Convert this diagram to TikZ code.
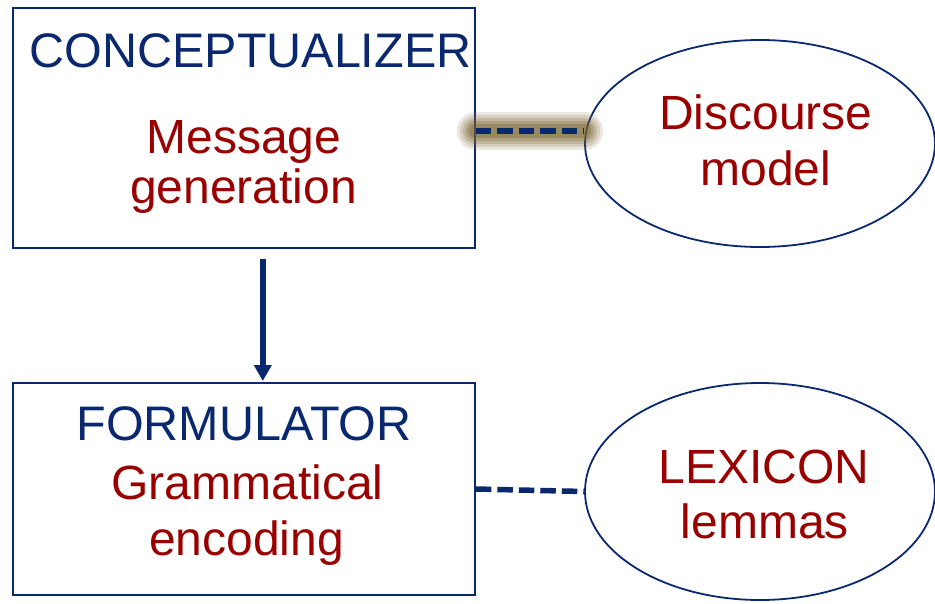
\documentclass[tikz,border=0pt]{standalone}
\usepackage{fontspec}
\setmainfont{Liberation Sans}
\usepackage{tikz}
\usetikzlibrary{shapes.geometric, arrows.meta, positioning, calc}

\definecolor{navy}{RGB}{10,40,110}
\definecolor{darkred}{RGB}{153,0,0}
\definecolor{glow}{RGB}{120,95,45}

\tikzset{
  stage/.style={draw=navy, line width=2pt, rectangle, minimum width=462pt, inner sep=0pt},
  store/.style={draw=navy, line width=1.8pt, ellipse, minimum width=350pt, inner sep=0pt},
  title/.style={text=navy, anchor=base, inner sep=0pt, font=\fontsize{48.5}{56}\selectfont},
  sub/.style={text=darkred, anchor=base, inner sep=0pt, font=\fontsize{48}{56}\selectfont},
  link/.style={draw=navy, line width=5.5pt, dash pattern=on 15.5pt off 6pt}
}

\begin{document}
\begin{tikzpicture}[x=1pt, y=-1pt]
\useasboundingbox (0,0) rectangle (935,603);
% Boxes
\node[stage, minimum height=240pt] (concept) at (243.8,128) {};
\node[stage, minimum height=212pt] (formul) at (243.8,489) {};
% Ellipses
\node[store, minimum height=207pt] (discourse) at (760,143.5) {};
\node[store, minimum height=217pt] (lexicon) at (760,491.5) {};
% Labels
\node[title] (conceptT) at (250.5,67) {CONCEPTUALIZER};
\node[sub] (message) at (244,153) {Message};
\node[sub] (generation) at (243.5,203) {generation};
\node[title] (formulT) at (244,440) {FORMULATOR};
\node[sub] (grammatical) at (247.5,499) {Grammatical};
\node[sub] (encoding) at (246.5,555) {encoding};
\node[sub] (discourseT) at (766,129) {Discourse};
\node[sub] (model) at (766,185) {model};
\node[sub] (lexiconT) at (764,483) {LEXICON};
\node[sub] (lemmas) at (765,538) {lemmas};
% Arrow
\draw[navy, line width=6pt, -{Triangle[length=16pt,width=17pt]}, shorten <=10pt, shorten >=1pt]
  ([xshift=19pt]concept.south) -- ([xshift=19pt]formul.north);
% Dashed links
\coordinate (c1) at ([yshift=-3pt]concept.east);
\coordinate (c2) at (c1 -| discourse.west);
\foreach \w/\o in {38/0.15, 32/0.18, 26/0.22, 20/0.28, 14/0.35}
  \draw[glow, line width=\w pt, opacity=\o, line cap=round] (c1) -- (c2);
\draw[link] (c1) -- (c2);
\draw[link] (formul.east) -- (lexicon.west);
\end{tikzpicture}
\end{document}
